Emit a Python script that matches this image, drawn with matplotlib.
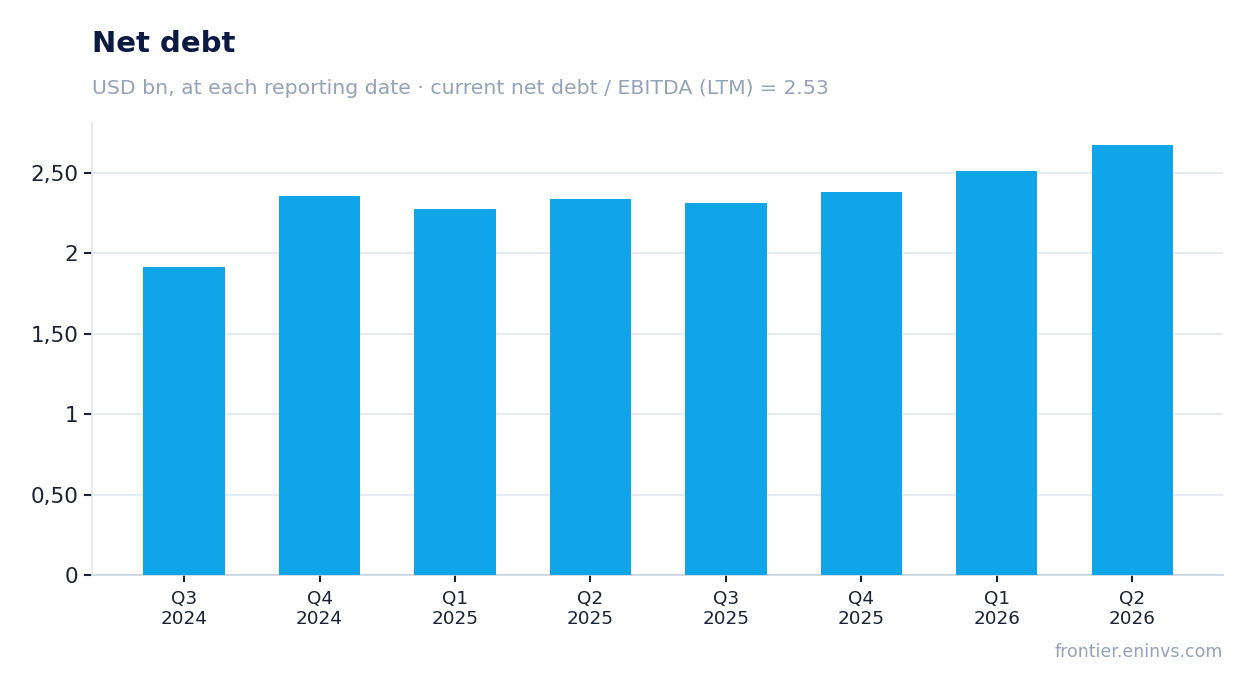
import numpy as np
import matplotlib.pyplot as plt
from matplotlib.ticker import FuncFormatter

quarters = ["Q3\n2024", "Q4\n2024", "Q1\n2025", "Q2\n2025",
            "Q3\n2025", "Q4\n2025", "Q1\n2026", "Q2\n2026"]
net_debt = [1.915, 2.357, 2.276, 2.338, 2.313, 2.382, 2.512, 2.674]
y_ticks = [0, 0.5, 1, 1.5, 2, 2.5]

bar_color = "#10a5e8"
grid_color = "#e2e8f0"
text_dark = "#1a2233"

fig = plt.figure(figsize=(12.54, 6.93), dpi=100)
ax = fig.add_axes([92 / 1254, 1 - 575 / 693, (1223 - 92) / 1254, (575 - 123) / 693])

x = np.arange(len(quarters))
ax.bar(x, net_debt, width=0.6, color=bar_color, zorder=3)

ax.set_xlim(-0.68, len(quarters) - 1 + 0.67)
ax.set_ylim(0, 2.81)
ax.set_xticks(x)
ax.set_xticklabels(quarters, fontsize=13.2, color=text_dark, linespacing=1.15)
ax.set_yticks(y_ticks)


def fmt(v, pos):
    if abs(v - round(v)) < 1e-9:
        return f"{int(round(v))}"
    return f"{v:.2f}".replace(".", ",")


ax.yaxis.set_major_formatter(FuncFormatter(fmt))
ax.tick_params(axis="y", labelsize=15.5, colors=text_dark, length=6, width=1.5, pad=4)
ax.tick_params(axis="x", length=5, width=1.5, colors=text_dark, pad=6)
for lbl in ax.get_xticklabels():
    lbl.set_color(text_dark)

ax.grid(axis="y", color=grid_color, linewidth=1.2, zorder=0)
for s in ["top", "right"]:
    ax.spines[s].set_visible(False)
ax.spines["left"].set_color(grid_color)
ax.spines["bottom"].set_color("#cbd5e1")
ax.spines["left"].set_linewidth(1.2)
ax.spines["bottom"].set_linewidth(1.2)

fig.text(92 / 1254, 1 - 44 / 693, "Net debt", fontsize=21, fontweight="bold",
         color="#0c1a42", va="center", ha="left")
fig.text(92 / 1254, 1 - 88 / 693,
         "USD bn, at each reporting date · current net debt / EBITDA (LTM) = 2.53",
         fontsize=14.7, color="#94a3b8", va="center", ha="left")
fig.text(1223 / 1254, 1 - 652 / 693, "frontier.eninvs.com", fontsize=12.5,
         color="#94a3b8", va="center", ha="right")

fig.savefig("out.png", dpi=100)
